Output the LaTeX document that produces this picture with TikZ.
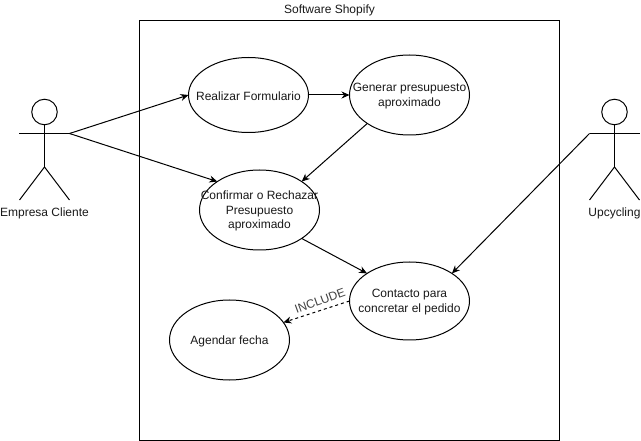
\documentclass[tikz,border=0pt]{standalone}
\usepackage{fontspec}
\setmainfont{Liberation Sans}
\usetikzlibrary{shapes.geometric, arrows.meta}
\tikzset{
  usecase/.style={ellipse, draw=black, line width=1pt, inner sep=0pt, outer sep=0pt, minimum width=120pt, minimum height=80pt},
  casetext/.style={align=center, yshift=-1pt, font=\fontsize{12}{14.3}\selectfont, text=black!90},
  actortext/.style={font=\fontsize{12}{14}\selectfont, text=black!90},
  assoc/.style={-{Stealth[length=8pt,width=7pt]}, line width=1pt},
}
\begin{document}
\begin{tikzpicture}[x=1pt,y=-1pt]
\useasboundingbox (0,0) rectangle (641,441);
\node[draw=black, line width=1pt, minimum width=420pt, minimum height=419.5pt, inner sep=0pt, outer sep=0pt, anchor=north west] (sistema) at (139.5,20.5) {};
\node[actortext] (titulo) at (329.5,10.5) {Software Shopify};
% actor izquierdo
\node[circle, draw=black, line width=1pt, minimum size=25.5pt, inner sep=0pt, outer sep=0pt] (cabezaE) at (44.5,112) {};
\coordinate (manoE) at (69.5,133.5);
\coordinate (hombroE) at (19,133.5);
\coordinate (caderaE) at (44.5,167);
\draw[line width=1pt] (cabezaE) -- (caderaE);
\draw[line width=1pt] (hombroE) -- (manoE);
\draw[line width=1pt] (19.5,200) -- (caderaE) -- (69.5,200);
\node[actortext] (empresa) at (44.5,213.5) {Empresa Cliente};
% actor derecho
\node[circle, draw=black, line width=1pt, minimum size=25.5pt, inner sep=0pt, outer sep=0pt] (cabezaU) at (614.5,112) {};
\coordinate (manoU) at (589.5,133.5);
\coordinate (hombroU) at (640,133.5);
\coordinate (caderaU) at (614.5,167);
\draw[line width=1pt] (cabezaU) -- (caderaU);
\draw[line width=1pt] (manoU) -- (hombroU);
\draw[line width=1pt] (589.5,200) -- (caderaU) -- (639.5,200);
\node[actortext] (upcycling) at (614.5,213.5) {Upcycling};
% casos de uso
\node[usecase, minimum height=75pt, label={[casetext]center:Realizar Formulario}] (realizar) at (248.5,95) {};
\node[usecase, label={[casetext]center:Generar presupuesto\\aproximado}] (generar) at (409.5,95) {};
\node[usecase, label={[casetext]center:Confirmar o Rechazar\\Presupuesto\\aproximado}] (confirmar) at (259.5,210) {};
\node[usecase, minimum height=78pt, label={[casetext]center:Contacto para\\concretar el pedido}] (contacto) at (409.5,301) {};
\node[usecase, label={[casetext]center:Agendar fecha}] (agendar) at (229.5,340) {};
% conexiones
\draw[assoc] (manoE) -- (realizar.west);
\draw[assoc] (manoE) -- (confirmar.146);
\draw[assoc] (realizar.east) -- (generar.west);
\draw[assoc] (generar.214) -- (confirmar.34);
\draw[assoc] (confirmar.-34) -- (contacto.147);
\draw[assoc] (manoU) -- (contacto.33);
\draw[assoc, dashed] (contacto.west) -- (agendar);
\node[actortext, rotate=20, text=black!75] (include) at (320,301) {INCLUDE};
\end{tikzpicture}
\end{document}
